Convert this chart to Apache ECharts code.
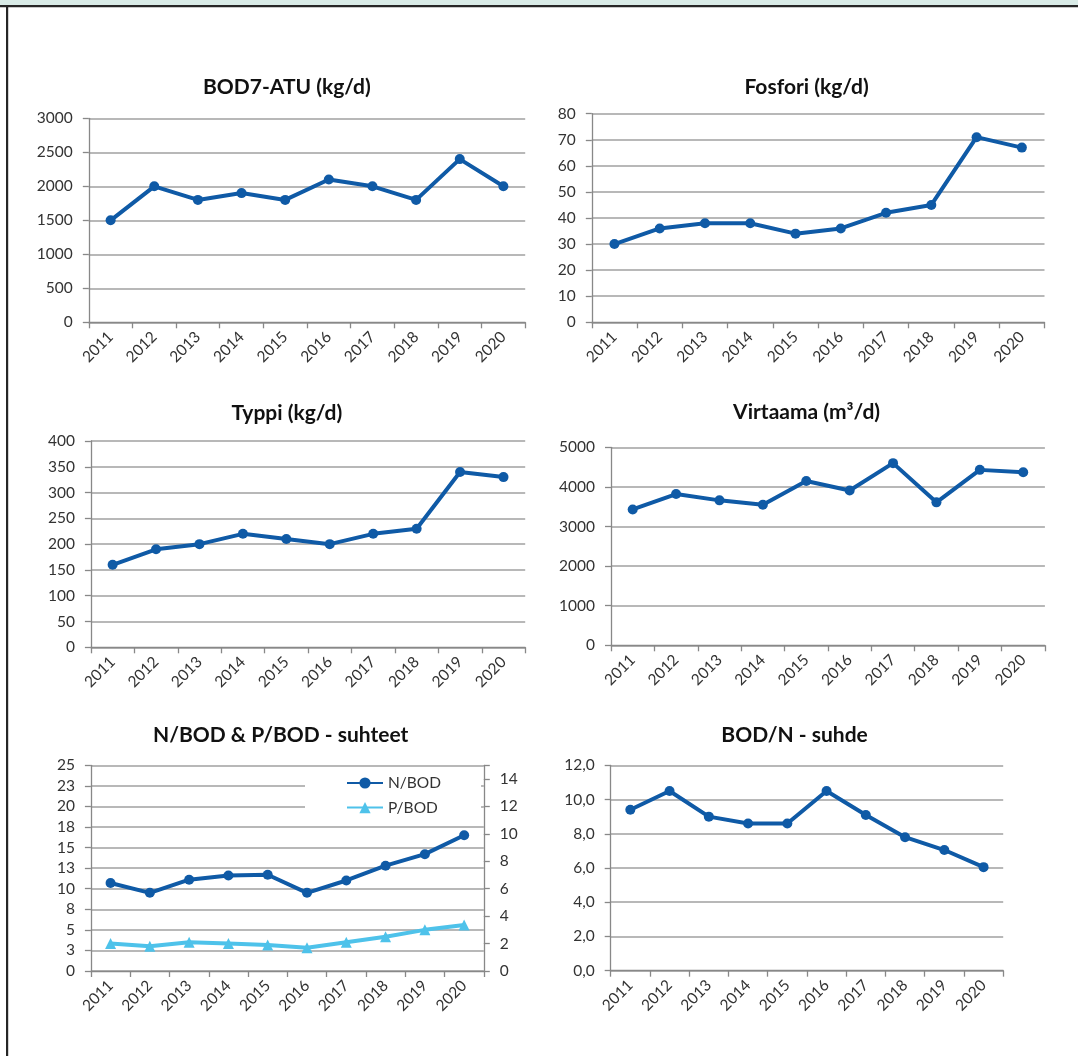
<!DOCTYPE html>
<html>
<head>
<meta charset="utf-8">
<script src="https://cdn.jsdelivr.net/npm/echarts@6/dist/echarts.min.js"></script>
<style>
html,body{margin:0;padding:0;background:#fff;}
#c{width:1078px;height:1056px;}
</style>
</head>
<body>
<div id="c"></div>
<script>
// ---- data ----
const years = ['2011','2012','2013','2014','2015','2016','2017','2018','2019','2020'];
const bod = [1500, 2000, 1800, 1900, 1800, 2100, 2000, 1800, 2400, 2000];
const fosfori = [30, 36, 38, 38, 34, 36, 42, 45, 71, 67];
const typpi = [160, 190, 200, 220, 210, 200, 220, 230, 340, 330];
const virtaama = [3430, 3820, 3660, 3550, 4150, 3910, 4600, 3610, 4430, 4370];
const nBod = [10.7, 9.5, 11.1, 11.6, 11.7, 9.5, 11.0, 12.8, 14.2, 16.5];
const pBod = [2.0, 1.8, 2.1, 2.0, 1.9, 1.7, 2.1, 2.5, 3.0, 3.35];
const bodN = [9.4, 10.5, 9.0, 8.6, 8.6, 10.5, 9.1, 7.8, 7.05, 6.05];
const titles = ['BOD7-ATU (kg/d)', 'Fosfori (kg/d)', 'Typpi (kg/d)', 'Virtaama (m\u00B3/d)', 'N/BOD & P/BOD - suhteet', 'BOD/N - suhde'];

// ---- styling ----
const FONT = 'Lato, "Open Sans", sans-serif';
const DARK = '#0f5aa6';
const LIGHT = '#4ec2ea';
const GRID = '#a0a0a0';
const AXIS = '#888888';
const LABEL = '#333333';
const FS = 15.5;

const panels = [
  {left: 88.8, top: 118.3, width: 436.4, height: 204, max: 3000, interval: 500},
  {left: 591.8, top: 113.7, width: 452.7, height: 208.6, max: 80, interval: 10},
  {left: 90.9, top: 441, width: 434.3, height: 206.3, max: 400, interval: 50},
  {left: 611, top: 447.3, width: 433.9, height: 198, max: 5000, interval: 1000},
  {left: 90.9, top: 765.3, width: 392.9, height: 205.7, max: 25, interval: 2.5},
  {left: 610.7, top: 765.3, width: 392.5, height: 205.4, max: 12, interval: 2}
];
const titlePos = [[286.9, 87.3], [806.6, 87.3], [286.9, 413.3], [806.6, 412.7], [280.7, 735.7], [794.6, 735.7]];

const grids = [], xAxes = [], yAxes = [], series = [];
panels.forEach((p, i) => {
  grids.push({left: p.left, top: p.top, width: p.width, height: p.height, containLabel: false});
  xAxes.push({
    type: 'category', gridIndex: i, data: years, boundaryGap: true,
    axisLine: {show: true, lineStyle: {color: AXIS, width: 1.3}},
    axisTick: {show: true, alignWithLabel: false, length: 6, lineStyle: {color: AXIS, width: 1.3}},
    axisLabel: {rotate: 45, margin: 12, fontSize: FS, color: LABEL, fontFamily: FONT, interval: 0},
    splitLine: {show: false}
  });
  let fmt;
  if (i === 4) fmt = v => String(Math.round(v));
  else if (i === 5) fmt = v => v.toFixed(1).replace('.', ',');
  else fmt = v => String(v);
  yAxes.push({
    type: 'value', gridIndex: i, min: 0, max: p.max, interval: p.interval,
    axisLine: {show: true, lineStyle: {color: AXIS, width: 1.3}},
    axisTick: {show: true, length: 6, lineStyle: {color: AXIS, width: 1.3}},
    axisLabel: {margin: 16, fontSize: FS, color: LABEL, fontFamily: FONT, formatter: fmt},
    splitLine: {show: true, lineStyle: {color: GRID, width: 1.5}}
  });
});
// secondary axis for P/BOD
yAxes.push({
  type: 'value', gridIndex: 4, position: 'right', min: 0, max: 15, interval: 2,
  axisLine: {show: true, lineStyle: {color: AXIS, width: 1.3}},
  axisTick: {show: true, length: 6, lineStyle: {color: AXIS, width: 1.3}},
  axisLabel: {margin: 16, fontSize: FS, color: LABEL, fontFamily: FONT, formatter: v => (v > 14 ? '' : String(v))},
  splitLine: {show: false}
});

function lineSeries(name, data, idx, yIdx, color, symbol) {
  return {
    name: name, type: 'line', xAxisIndex: idx, yAxisIndex: yIdx, data: data,
    symbol: symbol, symbolSize: symbol === 'triangle' ? 11 : 10,
    lineStyle: {color: color, width: 4},
    itemStyle: {color: color},
    z: 5
  };
}
series.push(lineSeries('BOD7-ATU', bod, 0, 0, DARK, 'circle'));
series.push(lineSeries('Fosfori', fosfori, 1, 1, DARK, 'circle'));
series.push(lineSeries('Typpi', typpi, 2, 2, DARK, 'circle'));
series.push(lineSeries('Virtaama', virtaama, 3, 3, DARK, 'circle'));
series.push(lineSeries('N/BOD', nBod, 4, 4, DARK, 'circle'));
series.push(lineSeries('P/BOD', pBod, 4, 6, LIGHT, 'triangle'));
series.push(lineSeries('BOD/N', bodN, 5, 5, DARK, 'circle'));

const graphics = [
  {type: 'rect', shape: {x: 0, y: 0, width: 1078, height: 5}, style: {fill: '#d9ebe7'}, silent: true},
  {type: 'rect', shape: {x: 0, y: 5, width: 1078, height: 2.3}, style: {fill: '#262626'}, silent: true},
  {type: 'rect', shape: {x: 6, y: 5, width: 2.2, height: 1051}, style: {fill: '#262626'}, silent: true}
];
titles.forEach((t, i) => {
  graphics.push({
    type: 'text', x: titlePos[i][0], y: titlePos[i][1], silent: true,
    style: {text: t, font: 'bold 21px ' + FONT, fill: '#111', textAlign: 'center', textVerticalAlign: 'middle'}
  });
});

const chart = echarts.init(document.getElementById('c'), null, {renderer: 'canvas'});
chart.setOption({
  animation: false,
  backgroundColor: '#ffffff',
  grid: grids, xAxis: xAxes, yAxis: yAxes, series: series,
  legend: {
    data: ['N/BOD', 'P/BOD'], orient: 'vertical', left: 305, top: 768,
    backgroundColor: '#ffffff', padding: [7, 40, 8, 41],
    itemWidth: 36, itemHeight: 14, itemGap: 8.6,
    textStyle: {fontSize: FS, color: LABEL, fontFamily: FONT}
  },
  graphic: graphics
});
</script>
</body>
</html>
